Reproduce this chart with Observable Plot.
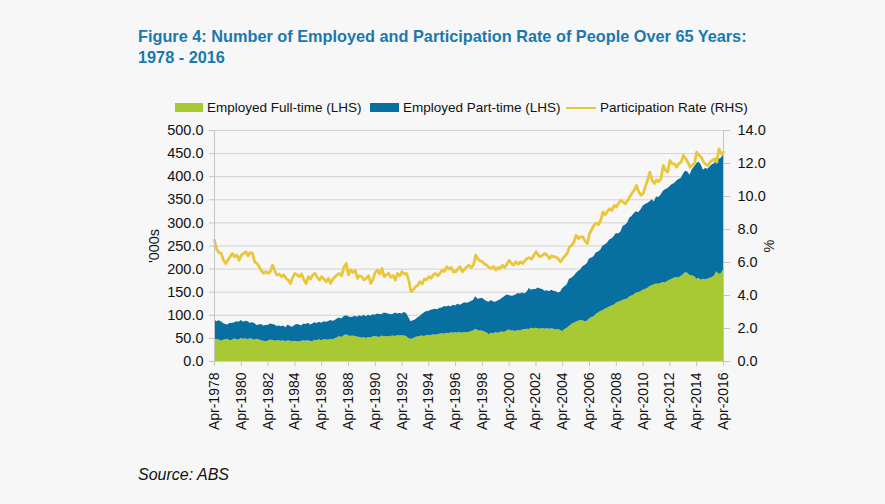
<!DOCTYPE html>
<html>
<head>
<meta charset="utf-8">
<script src="https://cdn.jsdelivr.net/npm/d3@7"></script>
<script src="https://cdn.jsdelivr.net/npm/@observablehq/plot@0.6"></script>
<style>
  html, body { margin: 0; padding: 0; }
  body { width: 885px; height: 504px; background: #f7f7f7; position: relative; overflow: hidden;
         font-family: "Liberation Sans", Arial, sans-serif; color: #111; }
  .title { position: absolute; left: 138px; top: 26px; font-size: 16.3px; line-height: 21px; font-weight: bold; color: #1a78b0; }
  .leg { position: absolute; font-size: 13.5px; line-height: 13px; top: 101px; white-space: nowrap; }
  .sw { position: absolute; }
  .caption { position: absolute; left: 138px; top: 467px; font-size: 16px; line-height: 16px; font-style: italic; }
  #chart { position: absolute; left: 0; top: 120px; }
</style>
</head>
<body>
<div class="title">Figure 4: Number of Employed and Participation Rate of People Over 65 Years:<br>1978 - 2016</div>
<div id="legend"></div>
<div id="chart"></div>
<div class="caption">Source: ABS</div>
<script>
// Bimonthly readings (Apr, Jun, Aug, Oct, Dec, Feb) starting Apr-1978, ending Apr-2016
const startYear = 1978, startMonth = 3, stepMonths = 2;
const seriesNames = ["Employed Full-time (LHS)", "Employed Part-time (LHS)", "Participation Rate (RHS)"];
const seriesColors = ["#a9c934", "#086fa1", "#e9c63a"];

// '000s employed full-time
const fullTime = [
  50, 47, 47, 44, 46, 47,   48, 45, 46, 49, 47, 47,   50, 48, 49, 47, 49, 48,
  46, 48, 47, 45, 44, 43,   44, 46, 46, 44, 45, 45,   44, 45, 43, 45, 44, 43,
  44, 43, 42, 44, 45, 44,   45, 44, 43, 46, 45, 47,   45, 47, 47, 46, 48, 47,
  49, 51, 54, 52, 55, 58,   56, 54, 55, 54, 53, 52,   51, 52, 50, 52, 51, 53,
  54, 53, 52, 55, 53, 54,   53, 54, 55, 54, 56, 55,   56, 55, 54, 50, 48, 49,
  52, 53, 54, 55, 54, 56,   57, 56, 58, 57, 58, 59,   60, 59, 61, 60, 62, 61,
  62, 61, 63, 61, 63, 62,   63, 65, 66, 70, 67, 66,   66, 64, 62, 58, 61, 60,
  62, 61, 63, 64, 63, 66,   68, 66, 66, 65, 67, 66,   68, 69, 70, 69, 72, 71,
  72, 71, 70, 72, 70, 71,   70, 71, 70, 68, 69, 67,   65, 69, 72, 76, 80, 83,
  85, 87, 89, 88, 86, 87,   92, 95, 97, 102, 105, 108, 110, 113, 115, 118, 120, 122,
  126, 128, 130, 132, 134, 135, 140, 142, 144, 148, 149, 151, 154, 156, 158, 162, 164, 166,
  168, 167, 169, 171, 170, 173, 176, 178, 180, 182, 181, 184, 188, 192, 191, 186, 185, 184,
  178, 180, 176, 178, 177, 178, 180, 182, 185, 194, 189, 190, 198
];
// '000s employed part-time
const partTime = [
  41, 39, 41, 42, 36, 33,   31, 38, 36, 35, 39, 38,   39, 37, 38, 39, 34, 36,
  36, 30, 32, 35, 33, 35,   34, 35, 34, 35, 31, 32,   31, 32, 30, 34, 32, 31,
  34, 37, 37, 33, 36, 36,   38, 35, 38, 38, 37, 38,   38, 39, 38, 40, 41, 40,
  39, 41, 40, 40, 42, 41,   41, 41, 41, 44, 43, 47,   46, 48, 47, 48, 47, 48,
  46, 50, 50, 46, 52, 50,   50, 47, 47, 51, 47, 49,   47, 51, 50, 45, 38, 39,
  38, 41, 43, 47, 51, 52,   51, 55, 54, 56, 54, 56,   56, 60, 57, 60, 56, 61,
  58, 63, 59, 63, 64, 64,   64, 65, 66, 70, 68, 70,   71, 69, 68, 70, 71, 69,
  66, 70, 70, 73, 77, 78,   75, 75, 76, 79, 80, 80,   80, 77, 80, 89, 82, 85,
  84, 88, 87, 84, 82, 82,   81, 83, 82, 83, 79, 83,   93, 93, 94, 102, 100, 101,
  105, 108, 109, 117, 122, 125, 130, 129, 130, 133, 132, 133, 140, 139, 141, 145, 145, 148,
  151, 148, 150, 160, 161, 164, 170, 172, 176, 176, 173, 177, 182, 184, 184, 183, 186, 179,
  188, 188, 191, 197, 202, 201, 202, 205, 205, 208, 213, 212, 217, 220, 219, 217, 230, 237,
  250, 252, 250, 236, 241, 238, 241, 244, 243, 249, 249, 250, 249
];
// Participation rate, %
const participation = [
  7.35, 6.80, 6.60, 6.55, 6.15, 5.94,   6.14, 6.35, 6.55, 6.34, 6.45, 6.14,   6.45, 6.55, 6.65, 6.40, 6.60, 6.55,
  6.04, 5.95, 5.74, 5.50, 5.34, 5.45,   5.34, 5.45, 5.84, 5.50, 5.24, 5.30,   5.14, 5.25, 5.04, 4.95, 4.73, 5.10,
  5.34, 5.25, 5.14, 5.30, 4.95, 4.73,   5.14, 5.00, 5.25, 5.34, 5.10, 4.93,   5.14, 5.00, 4.83, 5.05, 4.73, 5.00,
  5.14, 5.25, 5.34, 5.20, 5.74, 5.94,   5.24, 5.54, 5.40, 5.54, 5.04, 5.20,   5.14, 4.95, 5.04, 5.20, 4.73, 5.00,
  5.40, 5.54, 5.30, 5.64, 5.14, 5.25,   5.34, 5.10, 5.20, 4.93, 5.34, 5.20,   5.44, 5.30, 5.34, 4.93, 4.23, 4.35,
  4.53, 4.60, 4.83, 4.70, 5.00, 4.95,   5.14, 5.05, 5.25, 5.34, 5.20, 5.34,   5.54, 5.45, 5.74, 5.60, 5.70, 5.44,
  5.44, 5.60, 5.74, 5.44, 5.60, 5.74,   5.84, 5.70, 5.84, 6.44, 6.20, 6.10,   6.04, 5.90, 5.84, 5.70, 5.64, 5.75,
  5.54, 5.70, 5.64, 5.84, 5.70, 5.90,   6.14, 5.95, 5.84, 6.04, 5.90, 6.04,   5.94, 6.10, 6.24, 6.30, 6.20, 6.44,
  6.65, 6.45, 6.34, 6.44, 6.55, 6.44,   6.24, 6.40, 6.34, 6.34, 6.20, 6.04,   6.24, 6.40, 6.55, 6.95, 7.05, 7.25,
  7.65, 7.45, 7.55, 7.55, 7.30, 7.15,   7.75, 8.00, 8.26, 8.40, 8.30, 8.56,   9.06, 8.90, 9.10, 9.26, 9.15, 9.47,
  9.36, 9.60, 9.77, 9.67, 9.55, 9.75,   9.97, 10.20, 10.37, 10.67, 10.30, 10.07,   10.17, 10.60, 10.98, 11.48, 11.00, 10.78,
  11.00, 10.90, 11.08, 11.88, 11.60, 11.48,   12.18, 12.00, 11.98, 11.78, 12.00, 12.08,   12.49, 12.30, 12.08, 11.78, 11.90, 11.98,
  12.69, 12.50, 12.38, 12.10, 11.95, 11.88,   12.08, 12.20, 12.28, 12.08, 12.89, 12.60,   12.69
];
// Axis ticks
const leftTicks = [0, 50, 100, 150, 200, 250, 300, 350, 400, 450, 500];
const rightTicks = [0, 2, 4, 6, 8, 10, 12, 14];
const xTickYears = [1978, 1980, 1982, 1984, 1986, 1988, 1990, 1992, 1994, 1996, 1998, 2000, 2002, 2004, 2006, 2008, 2010, 2012, 2014, 2016];

const leftMax = 500, rightMax = 14;
const toLeft = v => v * leftMax / rightMax;

const dates = fullTime.map((_, i) => new Date(Date.UTC(startYear, startMonth + stepMonths * i, 1)));
const stacked = [];
dates.forEach((d, i) => {
  stacked.push({date: d, series: seriesNames[0], value: fullTime[i]});
  stacked.push({date: d, series: seriesNames[1], value: partTime[i]});
});
const rateData = dates.map((d, i) => ({date: d, rate: participation[i]}));
const xTicks = xTickYears.map(y => new Date(Date.UTC(y, startMonth, 1)));
const xDomain = [dates[0], dates[dates.length - 1]];
const fmt = d3.utcFormat("%b-%Y");

const chart = Plot.plot({
  width: 885,
  height: 330,
  marginTop: 10,
  marginBottom: 89,
  marginLeft: 214,
  marginRight: 162,
  style: {fontFamily: '"Liberation Sans", Arial, sans-serif', fontSize: "14.5px", background: "transparent", color: "#111"},
  x: {type: "utc", domain: xDomain},
  y: {domain: [0, leftMax]},
  color: {domain: seriesNames.slice(0, 2), range: seriesColors.slice(0, 2)},
  marks: [
    Plot.gridY(leftTicks, {stroke: "#d2d2d2", strokeOpacity: 1}),
    Plot.areaY(stacked, {x: "date", y: "value", fill: "series", curve: "linear"}),
    Plot.lineY(rateData, {x: "date", y: d => toLeft(d.rate), stroke: seriesColors[2], strokeWidth: 2.8, curve: "linear"}),
    Plot.ruleX([xDomain[0], xDomain[1]], {stroke: "#c4c4c4"}),
    Plot.axisY(leftTicks, {anchor: "left", tickSize: 5, tickPadding: 6, stroke: "#c4c4c4", fill: "#111",
      tickFormat: d => d.toFixed(1), label: "'000s", labelAnchor: "center", labelArrow: "none", labelOffset: 66}),
    Plot.axisY(rightTicks.map(toLeft), {anchor: "right", tickSize: 6, tickPadding: 8, stroke: "#c4c4c4", fill: "#111",
      tickFormat: d => (d * rightMax / leftMax).toFixed(1), label: "%", labelAnchor: "center", labelArrow: "none", labelOffset: 50}),
    Plot.axisX(xTicks, {tickSize: 5, tickPadding: 6, tickRotate: -90, stroke: "#c4c4c4", fill: "#111", fontSize: 14,
      tickFormat: fmt, label: null})
  ]
});
document.getElementById("chart").appendChild(chart);

// Legend
const legend = document.getElementById("legend");
const legItems = [
  {kind: "rect", sx: 175, sw: 28, tx: 207},
  {kind: "rect", sx: 370, sw: 29, tx: 403},
  {kind: "line", sx: 566, sw: 30, tx: 600}
];
legItems.forEach((it, i) => {
  const s = document.createElement("div");
  s.className = "sw";
  s.style.left = it.sx + "px";
  s.style.width = it.sw + "px";
  s.style.background = seriesColors[i];
  if (it.kind === "rect") { s.style.top = "103px"; s.style.height = "9px"; }
  else { s.style.top = "106.5px"; s.style.height = "2.5px"; }
  legend.appendChild(s);
  const t = document.createElement("div");
  t.className = "leg";
  t.style.left = it.tx + "px";
  t.textContent = seriesNames[i];
  legend.appendChild(t);
});
</script>
</body>
</html>
